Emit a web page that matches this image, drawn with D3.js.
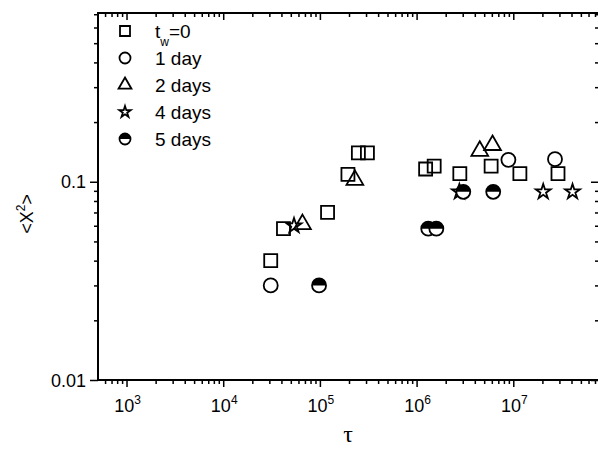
<!DOCTYPE html>
<html>
<head>
<meta charset="utf-8">
<script src="https://cdn.jsdelivr.net/npm/d3@7"></script>
<style>
  body { margin: 0; background: #fff; }
  text { font-family: "Liberation Sans", Arial, sans-serif; fill: #000; }
</style>
</head>
<body>
<svg id="chart" width="598" height="450"></svg>
<script>
// data
const tw0Tau = [3.1e4, 4.2e4, 1.2e5, 1.95e5, 2.5e5, 3.1e5, 1.24e6, 1.52e6, 2.8e6, 5.9e6, 1.17e7, 2.9e7]
const tw0Msd = [0.040, 0.058, 0.070, 0.109, 0.140, 0.140, 0.116, 0.120, 0.110, 0.120, 0.110, 0.110]

const day1Tau = [3.1e4, 8.9e6, 2.7e7]
const day1Msd = [0.030, 0.129, 0.130]

const day2Tau = [6.6e4, 2.3e5, 4.5e6, 6.1e6]
const day2Msd = [0.061, 0.102, 0.143, 0.153]

const day4Tau = [5.4e4, 2.77e6, 2.04e7, 4.1e7]
const day4Msd = [0.060, 0.089, 0.089, 0.089]

const day5Tau = [9.8e4, 1.32e6, 1.6e6, 3.04e6, 6.2e6]
const day5Msd = [0.030, 0.058, 0.058, 0.089, 0.089]

const legendLabels = ["t_w=0", "1 day", "2 days", "4 days", "5 days"]
const xMajorTicks = [1e3, 1e4, 1e5, 1e6, 1e7]
const yMajorTicks = [0.01, 0.1]

const margin = { top: 13, right: -1, bottom: 70, left: 98 }
const width = 598, height = 450

const svg = d3.select("#chart")

const x = d3.scaleLog()
  .domain([507, 7.7e7])
  .range([margin.left, width - margin.right])

const y = d3.scaleLog()
  .domain([0.01, 0.71])
  .range([height - margin.bottom, margin.top])

// minor ticks: 2..9 in each decade
function minors(scale) {
  const [a, b] = scale.domain()
  const out = []
  for (let e = Math.floor(Math.log10(a)); e <= Math.ceil(Math.log10(b)); e++) {
    for (let m = 2; m <= 9; m++) {
      const v = m * Math.pow(10, e)
      if (v >= a && v <= b) out.push(v)
    }
  }
  return out
}

const x0 = margin.left, x1 = width - margin.right
const y0 = height - margin.bottom, y1 = margin.top

function drawAxis(axis, tx, ty) {
  const g = svg.append("g").attr("transform", `translate(${tx},${ty})`).call(axis)
  g.selectAll("text").remove()
  g.select(".domain").remove()
  g.selectAll("line").attr("stroke", "#000").attr("stroke-width", 1.5)
  return g
}

// bottom (outward)
drawAxis(d3.axisBottom(x).tickValues(xMajorTicks).tickSize(7), 0, y0)
drawAxis(d3.axisBottom(x).tickValues(minors(x)).tickSize(4), 0, y0)
// top (inward)
drawAxis(d3.axisTop(x).tickValues(xMajorTicks).tickSize(-7), 0, y1)
drawAxis(d3.axisTop(x).tickValues(minors(x)).tickSize(-4), 0, y1)
// left (outward)
drawAxis(d3.axisLeft(y).tickValues(yMajorTicks).tickSize(8), x0, 0)
drawAxis(d3.axisLeft(y).tickValues(minors(y)).tickSize(4), x0, 0)
// right (inward)
drawAxis(d3.axisRight(y).tickValues(yMajorTicks).tickSize(-8), x1, 0)
drawAxis(d3.axisRight(y).tickValues(minors(y)).tickSize(-4), x1, 0)

// frame
svg.append("rect")
  .attr("x", x0).attr("y", y1)
  .attr("width", x1 - x0).attr("height", y0 - y1)
  .attr("fill", "none").attr("stroke", "#000").attr("stroke-width", 2)

// x tick labels
xMajorTicks.forEach(v => {
  const t = svg.append("text")
    .attr("x", x(v) + 1).attr("y", y0 + 32)
    .attr("text-anchor", "middle")
    .attr("font-size", 18)
  t.append("tspan").text("10")
  t.append("tspan").attr("font-size", 12).attr("dy", -8).text(Math.log10(v))
})

// y tick labels
yMajorTicks.forEach(v => {
  svg.append("text")
    .attr("x", x0 - 12).attr("y", y(v) + 6.5)
    .attr("text-anchor", "end")
    .attr("font-size", 18)
    .text(v)
})

// axis titles
svg.append("text")
  .attr("x", 348).attr("y", 442)
  .attr("text-anchor", "middle")
  .attr("font-size", 24)
  .style("font-family", "'Liberation Serif', 'Times New Roman', serif")
  .text("\u03c4")

const yl = svg.append("text")
  .attr("transform", "translate(33,214) rotate(-90)")
  .attr("text-anchor", "middle")
  .attr("font-size", 18)
yl.append("tspan").text("<X")
yl.append("tspan").attr("font-size", 12).attr("dy", -8).text("2")
yl.append("tspan").attr("dy", 8).text(">")

// marker drawing, s = nominal width in px
function drawMarker(g, kind, s) {
  const sw = 1.8
  if (kind === "square") {
    g.append("path").attr("d", d3.symbol(d3.symbolSquare, s * s)())
      .attr("fill", "none").attr("stroke", "#000").attr("stroke-width", sw)
  } else if (kind === "circle") {
    g.append("circle").attr("r", s / 2 + 0.5)
      .attr("fill", "none").attr("stroke", "#000").attr("stroke-width", sw)
  } else if (kind === "triangle") {
    g.append("path").attr("d", d3.symbol(d3.symbolTriangle, s * s * 0.72)())
      .attr("fill", "none").attr("stroke", "#000").attr("stroke-width", sw)
      .attr("stroke-linejoin", "miter")
  } else if (kind === "star") {
    g.append("path").attr("d", d3.symbol(d3.symbolStar, s * s * 0.4)())
      .attr("fill", "none").attr("stroke", "#000").attr("stroke-width", sw)
  } else if (kind === "half") {
    const r = s / 2 + 0.5
    g.append("circle").attr("r", r).attr("fill", "#fff")
    g.append("path")
      .attr("d", `M${-r},0 A${r},${r} 0 0 1 ${r},0 Z`)
      .attr("fill", "#000")
    g.append("circle").attr("r", r)
      .attr("fill", "none").attr("stroke", "#000").attr("stroke-width", sw)
  }
}

const series = [
  { kind: "square", tau: tw0Tau, msd: tw0Msd },
  { kind: "circle", tau: day1Tau, msd: day1Msd },
  { kind: "triangle", tau: day2Tau, msd: day2Msd },
  { kind: "star", tau: day4Tau, msd: day4Msd },
  { kind: "half", tau: day5Tau, msd: day5Msd }
]

const plot = svg.append("g")
series.forEach(s => {
  s.tau.forEach((t, i) => {
    const g = plot.append("g")
      .attr("transform", `translate(${x(t)},${y(s.msd[i])})`)
    drawMarker(g, s.kind, 13)
  })
})

// legend
const legend = svg.append("g")
series.forEach((s, i) => {
  const ly = 31 + i * 27
  const g = legend.append("g").attr("transform", `translate(125,${ly})`)
  drawMarker(g, s.kind, 10)
  const t = legend.append("text")
    .attr("x", 155).attr("y", ly + 6.5)
    .attr("font-size", 19)
  const lab = legendLabels[i]
  if (lab.startsWith("t_w")) {
    t.append("tspan").text("t")
    t.append("tspan").attr("font-size", 12).attr("dy", 8).text("w")
    t.append("tspan").attr("dy", -8).text(lab.slice(3))
  } else {
    t.text(lab)
  }
})
</script>
</body>
</html>
